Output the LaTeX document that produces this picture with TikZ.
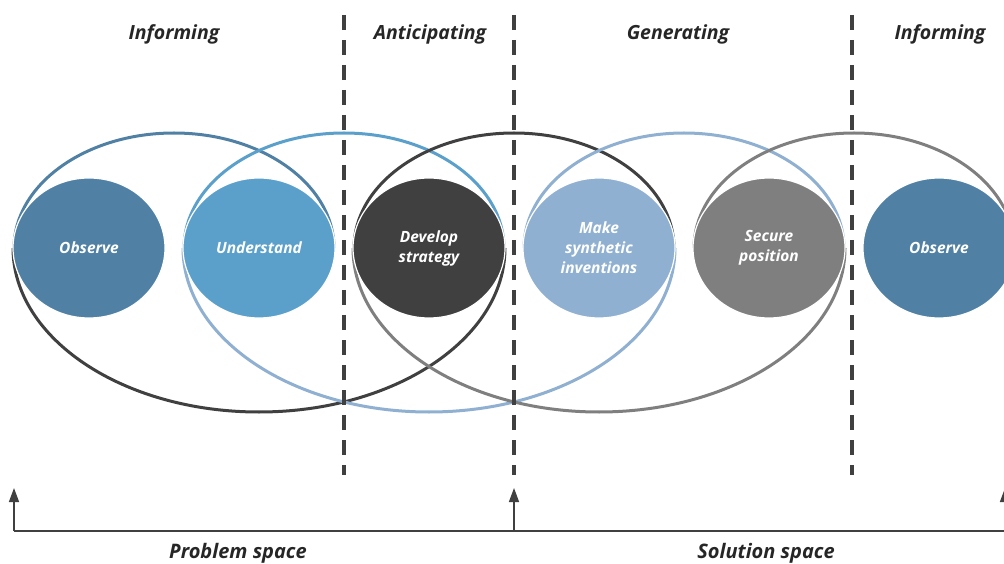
\documentclass[tikz,border=0pt]{standalone}
\usepackage{fontspec}
\setmainfont{Open Sans}
\usetikzlibrary{shapes.geometric,calc,arrows.meta}

\definecolor{obsblue}{RGB}{80,129,164}
\definecolor{undblue}{RGB}{91,160,203}
\definecolor{devgray}{RGB}{64,64,64}
\definecolor{mkblue}{RGB}{143,176,209}
\definecolor{secgray}{RGB}{127,127,127}
\definecolor{txtdark}{RGB}{38,38,38}

\tikzset{
  stage/.style={ellipse, minimum width=152pt, minimum height=140pt, inner sep=0pt,
    draw=white, line width=1.2pt, text=white, align=center,
    font=\fontsize{15.5}{20}\selectfont\bfseries\itshape},
  loopline/.style={line width=3pt},
  phase/.style={anchor=base, text=txtdark, font=\fontsize{19.5}{22}\selectfont\bfseries\itshape},
  space/.style={anchor=base, text=txtdark, font=\fontsize{20}{22}\selectfont\bfseries\itshape},
  divider/.style={line width=4pt, devgray, dash pattern=on 15pt off 10pt},
}

\begin{document}
\begin{tikzpicture}[x=1pt,y=1pt]
    \useasboundingbox (0,0) rectangle (1004,563);
    \clip (0,0) rectangle (1004,563);

    % 各阶段圆心
    \coordinate (P1) at (89,315);
    \coordinate (P2) at (259,315);
    \coordinate (P3) at (429,315);
    \coordinate (P4) at (599,315);
    \coordinate (P5) at (769,315);
    \coordinate (P6) at (939,315);

    % === 上方弧线（相邻两圆之间） ===
    \draw[loopline, obsblue] ($(P1)!0.5!(P2)$) ++(0:160) arc [start angle=0, end angle=180, x radius=160pt, y radius=115pt];
    \draw[loopline, undblue] ($(P2)!0.5!(P3)$) ++(0:160) arc [start angle=0, end angle=180, x radius=160pt, y radius=115pt];
    \draw[loopline, devgray] ($(P3)!0.5!(P4)$) ++(0:160) arc [start angle=0, end angle=180, x radius=160pt, y radius=115pt];
    \draw[loopline, mkblue]  ($(P4)!0.5!(P5)$) ++(0:160) arc [start angle=0, end angle=180, x radius=160pt, y radius=115pt];
    \draw[loopline, secgray] ($(P5)!0.5!(P6)$) ++(0:160) arc [start angle=0, end angle=180, x radius=160pt, y radius=115pt];

    % === 下方弧线（跨三个圆） ===
    \draw[loopline, devgray] (P2) ++(180:246) arc [start angle=180, end angle=360, x radius=246pt, y radius=164pt];
    \draw[loopline, mkblue]  (P3) ++(180:246) arc [start angle=180, end angle=360, x radius=246pt, y radius=164pt];
    \draw[loopline, secgray] (P4) ++(180:246) arc [start angle=180, end angle=360, x radius=246pt, y radius=164pt];

    % === 各阶段圆 ===
    \node[stage, fill=obsblue] (obs)  at (P1) {Observe};
    \node[stage, fill=undblue] (und)  at (P2) {Understand};
    \node[stage, fill=devgray] (dev)  at (P3) {Develop\\strategy};
    \node[stage, fill=mkblue]  (make) at (P4) {Make\\synthetic\\inventions};
    \node[stage, fill=secgray] (sec)  at (P5) {Secure\\position};
    \node[stage, fill=obsblue] (obs2) at (P6) {Observe};

    % 分隔虚线
    \foreach \x in {344,514,852}
        \draw[divider] (\x,548) -- (\x,88);

    % 阶段名称
    \node[phase] (inf1) at (174,523) {Informing};
    \node[phase] (anti) at (430,523) {Anticipating};
    \node[phase] (gen)  at (678,523) {Generating};
    \node[phase] (inf2) at (940,523) {Informing};

    % === 底部时间轴 ===
    \coordinate (L) at (14,32);
    \coordinate (M) at (514,32);
    \coordinate (R) at (1005,32);
    \draw[line width=1.5pt, devgray] (L) -- (R);
    \foreach \p in {L,M,R}
        \draw[line width=1.5pt, devgray, -{Triangle[length=14pt,width=10pt]}] (\p) -- ++(0,43);

    \node[space] (prob) at (238,5) {Problem space};
    \node[space] (sol)  at (766,5) {Solution space};
\end{tikzpicture}
\end{document}
